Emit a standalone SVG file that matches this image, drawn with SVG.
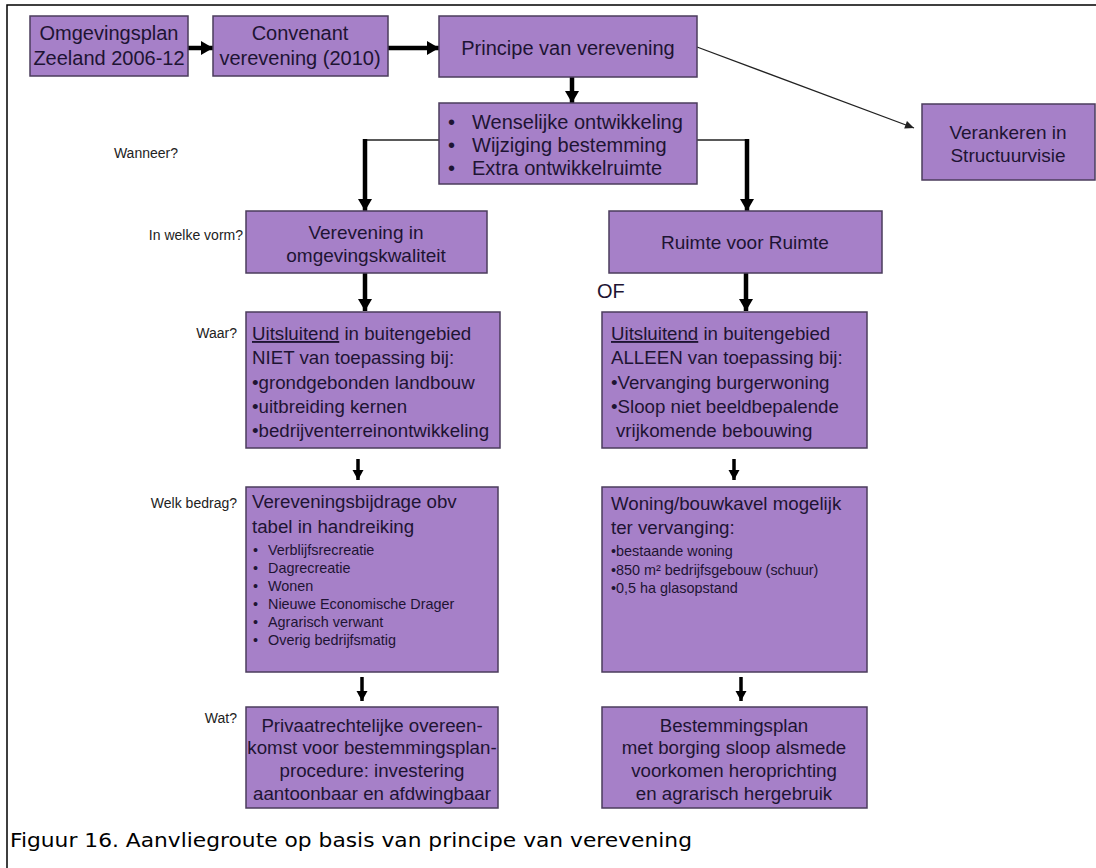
<svg xmlns="http://www.w3.org/2000/svg" width="1096" height="868" viewBox="0 0 1096 868">
<defs>
<style>
.box{fill:#a680c8;stroke:#4b3c5c;stroke-width:1.5}
.t{font-family:"Liberation Sans",Arial,sans-serif;fill:#1e1433}
.c{text-anchor:middle}
.lbl{font-family:"Liberation Sans",Arial,sans-serif;font-size:14px;fill:#222;text-anchor:end}
.thick{stroke:#000;stroke-width:4.5;fill:none}
.med{stroke:#000;stroke-width:3.5;fill:none}
.thin{stroke:#222;stroke-width:1.3;fill:none}
</style>
<marker id="ah" markerUnits="userSpaceOnUse" markerWidth="16" markerHeight="16" refX="14" refY="8" orient="auto">
<path d="M2,1 L14,8 L2,15 Z" fill="#000"/>
</marker>
<marker id="ahs" markerUnits="userSpaceOnUse" markerWidth="14" markerHeight="14" refX="12" refY="7" orient="auto">
<path d="M2,1.5 L12,7 L2,12.5 Z" fill="#000"/>
</marker>
<marker id="aht" markerUnits="userSpaceOnUse" markerWidth="12" markerHeight="12" refX="10" refY="6" orient="auto">
<path d="M1,2 L10,6 L1,10 Z" fill="#222"/>
</marker>
</defs>
<rect width="1096" height="868" fill="#fff"/>
<path d="M7,868 V5 H1096" stroke="#000" stroke-width="1.5" fill="none"/>

<g id="connectors">
<line class="thick" x1="188" y1="48" x2="213" y2="48" marker-end="url(#ah)"/>
<line class="thick" x1="388" y1="48" x2="439" y2="48" marker-end="url(#ah)"/>
<line class="thin" x1="697" y1="47" x2="914" y2="128" marker-end="url(#aht)"/>
<line class="thick" x1="572" y1="77" x2="572" y2="103" marker-end="url(#ah)"/>
<line class="thin" x1="439" y1="140" x2="365" y2="140"/>
<line class="thick" x1="365" y1="139" x2="365" y2="211" marker-end="url(#ah)"/>
<line class="thin" x1="697" y1="140" x2="747" y2="140"/>
<line class="thick" x1="747" y1="139" x2="747" y2="211" marker-end="url(#ah)"/>
<line class="thick" x1="365" y1="273" x2="365" y2="311" marker-end="url(#ah)"/>
<line class="thick" x1="746" y1="273" x2="746" y2="311" marker-end="url(#ah)"/>
<line class="med" x1="358" y1="459" x2="358" y2="480" marker-end="url(#ahs)"/>
<line class="med" x1="734" y1="459" x2="734" y2="480" marker-end="url(#ahs)"/>
<line class="med" x1="362" y1="677" x2="362" y2="701" marker-end="url(#ahs)"/>
<line class="med" x1="741" y1="677" x2="741" y2="701" marker-end="url(#ahs)"/>
</g>

<g id="n-omgevingsplan">
<rect class="box" x="30" y="16" width="158" height="60"/>
<text class="t c" font-size="20" x="109" y="40">Omgevingsplan</text>
<text class="t c" font-size="20" x="109" y="65">Zeeland 2006-12</text>
</g>
<g id="n-convenant">
<rect class="box" x="213" y="16" width="175" height="60"/>
<text class="t c" font-size="20" x="300" y="40">Convenant</text>
<text class="t c" font-size="20" x="300" y="65">verevening (2010)</text>
</g>
<g id="n-principe">
<rect class="box" x="439" y="16" width="258" height="61"/>
<text class="t c" font-size="20" x="568" y="55">Principe van verevening</text>
</g>
<g id="n-wanneer">
<rect class="box" x="439" y="103" width="258" height="81"/>
<text class="t" font-size="20" x="448" y="129">•</text>
<text class="t" font-size="20" x="472" y="129">Wenselijke ontwikkeling</text>
<text class="t" font-size="20" x="448" y="152">•</text>
<text class="t" font-size="20" x="472" y="152">Wijziging bestemming</text>
<text class="t" font-size="20" x="448" y="175">•</text>
<text class="t" font-size="20" x="472" y="175">Extra ontwikkelruimte</text>
</g>
<g id="n-verankeren">
<rect class="box" x="922" y="104" width="173" height="76"/>
<text class="t c" font-size="19" x="1008" y="139">Verankeren in</text>
<text class="t c" font-size="19" x="1008" y="162">Structuurvisie</text>
</g>
<g id="n-verevening-kwaliteit">
<rect class="box" x="246" y="211" width="241" height="62"/>
<text class="t c" font-size="19" x="366" y="239">Verevening in</text>
<text class="t c" font-size="19" x="366" y="262">omgevingskwaliteit</text>
</g>
<g id="n-ruimte">
<rect class="box" x="609" y="211" width="273" height="62"/>
<text class="t c" font-size="19" x="745" y="249">Ruimte voor Ruimte</text>
</g>
<g id="n-of">
<text class="t" font-size="20" x="597" y="298" fill="#111">OF</text>
</g>
<g id="n-waar-links">
<rect class="box" x="246" y="312" width="254" height="136"/>
<text class="t" font-size="18.7" x="252" y="340"><tspan text-decoration="underline">Uitsluitend</tspan> in buitengebied</text>
<text class="t" font-size="18.7" x="252" y="364">NIET van toepassing bij:</text>
<text class="t" font-size="18.7" x="252" y="389">•grondgebonden landbouw</text>
<text class="t" font-size="18.7" x="252" y="413">•uitbreiding kernen</text>
<text class="t" font-size="18.7" x="252" y="437">•bedrijventerreinontwikkeling</text>
</g>
<g id="n-waar-rechts">
<rect class="box" x="602" y="312" width="265" height="136"/>
<text class="t" font-size="18.7" x="611" y="340"><tspan text-decoration="underline">Uitsluitend</tspan> in buitengebied</text>
<text class="t" font-size="18.7" x="611" y="364">ALLEEN van toepassing bij:</text>
<text class="t" font-size="18.7" x="611" y="389">•Vervanging burgerwoning</text>
<text class="t" font-size="18.7" x="611" y="413">•Sloop niet beeldbepalende</text>
<text class="t" font-size="18.7" x="616" y="437">vrijkomende bebouwing</text>
</g>
<g id="n-bedrag-links">
<rect class="box" x="246" y="487" width="252" height="185"/>
<text class="t" font-size="18.7" x="252" y="508">Vereveningsbijdrage obv</text>
<text class="t" font-size="18.7" x="252" y="533">tabel in handreiking</text>
<g font-size="14.4">
<text class="t" x="253" y="555">•</text><text class="t" x="268" y="555">Verblijfsrecreatie</text>
<text class="t" x="253" y="573">•</text><text class="t" x="268" y="573">Dagrecreatie</text>
<text class="t" x="253" y="591">•</text><text class="t" x="268" y="591">Wonen</text>
<text class="t" x="253" y="609">•</text><text class="t" x="268" y="609">Nieuwe Economische Drager</text>
<text class="t" x="253" y="627">•</text><text class="t" x="268" y="627">Agrarisch verwant</text>
<text class="t" x="253" y="645">•</text><text class="t" x="268" y="645">Overig bedrijfsmatig</text>
</g>
</g>
<g id="n-bedrag-rechts">
<rect class="box" x="602" y="487" width="265" height="185"/>
<text class="t" font-size="18.7" x="611" y="510">Woning/bouwkavel mogelijk</text>
<text class="t" font-size="18.7" x="611" y="534">ter vervanging:</text>
<g font-size="14.4">
<text class="t" x="611" y="556">•bestaande woning</text>
<text class="t" x="611" y="575">•850 m² bedrijfsgebouw (schuur)</text>
<text class="t" x="611" y="593">•0,5 ha glasopstand</text>
</g>
</g>
<g id="n-wat-links">
<rect class="box" x="246" y="707" width="252" height="101"/>
<text class="t c" font-size="18.7" x="372" y="732">Privaatrechtelijke overeen-</text>
<text class="t c" font-size="18.7" x="372" y="754">komst voor bestemmingsplan-</text>
<text class="t c" font-size="18.7" x="372" y="777">procedure: investering</text>
<text class="t c" font-size="18.7" x="372" y="800">aantoonbaar en afdwingbaar</text>
</g>
<g id="n-wat-rechts">
<rect class="box" x="602" y="707" width="265" height="101"/>
<text class="t c" font-size="18.7" x="734" y="732">Bestemmingsplan</text>
<text class="t c" font-size="18.7" x="734" y="754">met borging sloop alsmede</text>
<text class="t c" font-size="18.7" x="734" y="777">voorkomen heroprichting</text>
<text class="t c" font-size="18.7" x="734" y="800">en agrarisch hergebruik</text>
</g>

<g id="labels">
<text class="lbl" x="178" y="158">Wanneer?</text>
<text class="lbl" x="243" y="240">In welke vorm?</text>
<text class="lbl" x="237" y="338">Waar?</text>
<text class="lbl" x="237" y="508">Welk bedrag?</text>
<text class="lbl" x="237" y="723">Wat?</text>
</g>
<text x="10" y="847" font-family="'DejaVu Sans',Verdana,sans-serif" font-size="19" fill="#000" textLength="682" lengthAdjust="spacingAndGlyphs">Figuur 16. Aanvliegroute op basis van principe van verevening</text>
</svg>
